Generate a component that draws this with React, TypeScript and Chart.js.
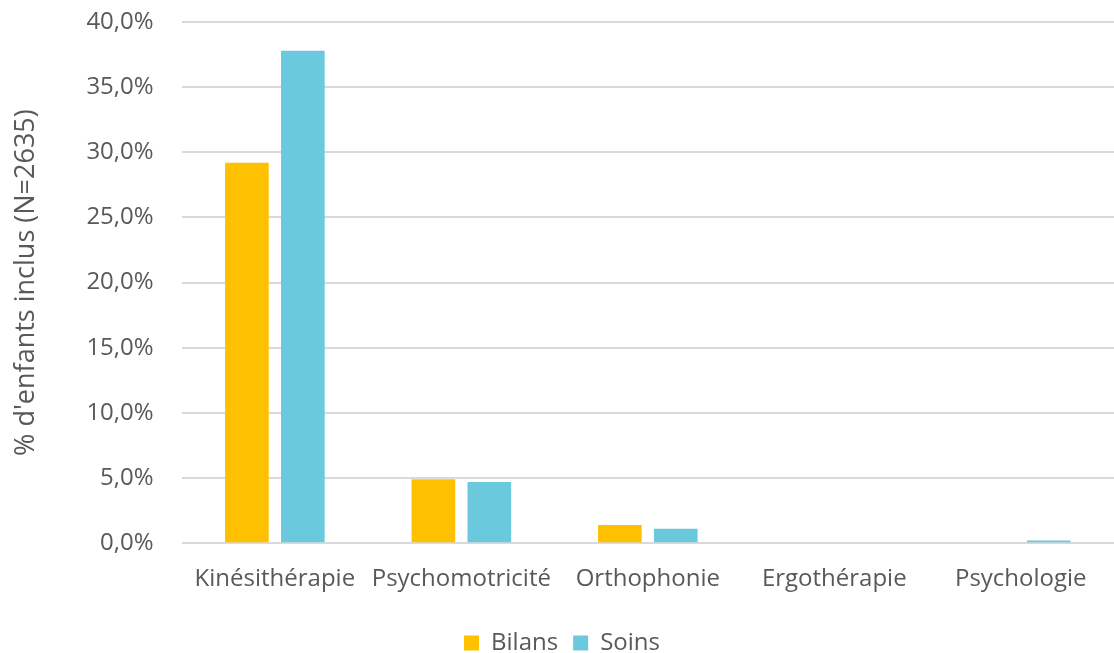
import React, { useEffect, useRef } from "react";
import { Chart, registerables } from "chart.js";

Chart.register(...registerables);

const categories = ["Kinésithérapie", "Psychomotricité", "Orthophonie", "Ergothérapie", "Psychologie"];
const bilans = [29.2, 4.9, 1.4, 0, 0];
const soins = [37.8, 4.7, 1.1, 0, 0.2];
const seriesNames = ["Bilans", "Soins"];
const yTitle = "% d'enfants inclus (N=2635)";

export default function App() {
  const ref = useRef<HTMLCanvasElement | null>(null);
  useEffect(() => {
    document.body.style.margin = "0";
    const ctx = ref.current!;
    const font = "'Open Sans', Lato, sans-serif";
    const chart = new Chart(ctx, {
      type: "bar",
      data: {
        labels: categories,
        datasets: [
          { label: seriesNames[0], data: bilans, backgroundColor: "#FFC000", borderWidth: 0 },
          { label: seriesNames[1], data: soins, backgroundColor: "#6BC9DE", borderWidth: 0 },
        ],
      },
      options: {
        animation: false,
        responsive: false,
        maintainAspectRatio: false,
        layout: { padding: { top: 0, right: 0, bottom: -12, left: 10 } },
        datasets: { bar: { categoryPercentage: 0.6, barPercentage: 0.78 } },
        plugins: {
          legend: {
            position: "bottom",
            labels: {
              boxWidth: 15,
              boxHeight: 15,
              padding: 15,
              color: "#595959",
              font: { family: font, size: 24 },
            },
          },
          tooltip: { enabled: false },
        },
        scales: {
          x: {
            grid: { display: false, drawTicks: false },
            border: { display: false },
            ticks: { color: "#595959", font: { family: font, size: 24 }, padding: 22, maxRotation: 0 },
          },
          y: {
            min: 0,
            max: 40,
            afterFit: (scale: any) => {
              scale.paddingTop = 22;
            },
            ticks: {
              stepSize: 5,
              color: "#595959",
              font: { family: font, size: 24 },
              padding: 28,
              callback: (v: any) => Number(v).toFixed(1).replace(".", ",") + "%",
            },
            grid: { color: "#D9D9D9", lineWidth: 2, drawTicks: false },
            border: { display: false },
            title: {
              display: true,
              text: yTitle,
              color: "#595959",
              font: { family: font, size: 27 },
              padding: { top: 0, bottom: 16 },
            },
          },
        },
      },
    });
    return () => chart.destroy();
  }, []);
  return (
    <div style={{ width: 1114, height: 653 }}>
      <canvas ref={ref} width={1114} height={653} />
    </div>
  );
}
